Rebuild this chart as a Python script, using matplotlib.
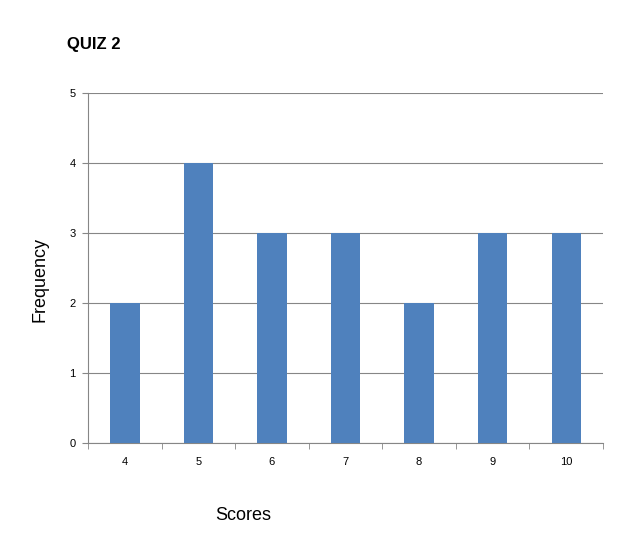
import matplotlib
matplotlib.use("Agg")
import matplotlib.pyplot as plt
import numpy as np

plt.rcParams["font.family"] = ["Liberation Sans", "DejaVu Sans"]

scores = ["4", "5", "6", "7", "8", "9", "10"]
frequency = [2, 4, 3, 3, 2, 3, 3]

fig = plt.figure(figsize=(6.25, 5.40), dpi=100)
ax = fig.add_axes([88 / 625, 1 - 443 / 540, (603 - 88) / 625, (443 - 93) / 540])

x = np.arange(len(scores))
ax.bar(x, frequency, width=0.4, color="#4F81BD", zorder=3)

ax.set_xlim(-0.5, len(scores) - 0.5)
ax.set_ylim(0, 5)
ax.set_yticks(range(0, 6))
ax.set_xticks(x)
ax.set_xticklabels(scores)
ax.set_xticks(np.arange(-0.5, len(scores)), minor=True)
ax.tick_params(axis="x", which="major", length=0, pad=10, labelsize=8)
ax.tick_params(axis="x", which="minor", length=4, color="#868686", direction="out")
ax.tick_params(axis="y", length=4, color="#868686", labelsize=8, pad=5)

ax.grid(axis="y", color="#868686", linewidth=0.8, zorder=0)
for side in ["top", "right"]:
    ax.spines[side].set_visible(False)
ax.spines["left"].set_color("#868686")
ax.spines["bottom"].set_color("#868686")

fig.text(67 / 625, 1 - 45 / 540, "QUIZ 2", fontsize=12, fontweight="bold",
         va="center", ha="left")
fig.text(40 / 625, 1 - 280 / 540, "Frequency", fontsize=13, rotation=90,
         va="center", ha="center")
fig.text(243 / 625, 1 - 516 / 540, "Scores", fontsize=13,
         va="center", ha="center")

fig.savefig("out.png", dpi=100)
